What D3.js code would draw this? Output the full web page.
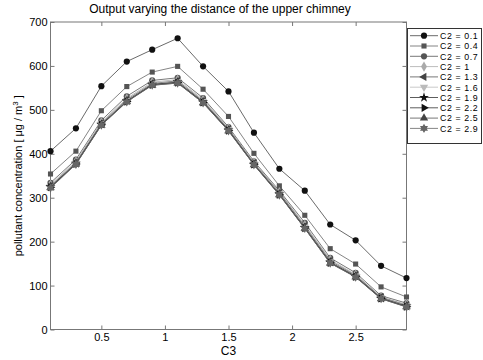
<!DOCTYPE html>
<html>
<head>
<meta charset="utf-8">
<script src="https://cdn.jsdelivr.net/npm/d3@7"></script>
<style>
body { margin: 0; background: #fff; }
svg { display: block; font-family: 'Liberation Sans', Arial, sans-serif; }
</style>
</head>
<body>
<svg id="chart" width="483" height="360"></svg>
<script>
// C3 positions along the x-axis
const c3Values = [0.1, 0.3, 0.5, 0.7, 0.9, 1.1, 1.3, 1.5, 1.7, 1.9, 2.1, 2.3, 2.5, 2.7, 2.9];

// one series per C2 value
const c2Labels = ['C2 = 0.1', 'C2 = 0.4', 'C2 = 0.7', 'C2 = 1', 'C2 = 1.3', 'C2 = 1.6', 'C2 = 1.9', 'C2 = 2.2', 'C2 = 2.5', 'C2 = 2.9'];
const c2_01 = [406, 458, 554, 610, 637, 663, 599, 542, 448, 366, 316, 239, 203, 145, 117];
const c2_04 = [354, 406, 498, 553, 586, 599, 547, 485, 401, 327, 260, 184, 149, 97, 74];
const c2_07 = [334, 387, 476, 531, 567, 573, 527, 461, 383, 316, 243, 163, 129, 77, 60];
const c2_10 = [330, 383, 472, 526, 563, 569, 523, 458, 380, 313, 238, 159, 125, 74, 57];
const c2_13 = [327, 380, 469, 523, 560, 566, 520, 456, 378, 311, 235, 156, 123, 73, 55];
const c2_16 = [326, 379, 468, 521, 559, 564, 519, 455, 377, 309, 233, 154, 122, 72, 54];
const c2_19 = [325, 378, 467, 520, 558, 563, 518, 454, 376, 308, 232, 153, 121, 71, 53];
const c2_22 = [324, 377, 466, 519, 557, 562, 517, 453, 376, 307, 231, 152, 120, 71, 52];
const c2_25 = [323, 377, 465, 519, 556, 561, 516, 452, 375, 307, 230, 151, 120, 70, 52];
const c2_29 = [322, 376, 465, 518, 556, 561, 516, 452, 375, 306, 230, 151, 119, 70, 51];
const seriesValues = [c2_01, c2_04, c2_07, c2_10, c2_13, c2_16, c2_19, c2_22, c2_25, c2_29];

// tick labels
const xTicks = [0.5, 1, 1.5, 2, 2.5];
const yTicks = [0, 100, 200, 300, 400, 500, 600, 700];

// MATLAB-like hexagram marker
const symbolHexagram = {
    draw(context, size) {
        const r = Math.sqrt(size / 1.6);
        const ri = r / Math.sqrt(3);
        for (let i = 0; i < 12; i++) {
            const a = Math.PI / 6 * i - Math.PI / 2;
            const rr = i % 2 ? ri : r;
            if (i === 0)
                context.moveTo(rr * Math.cos(a), rr * Math.sin(a));
            else
                context.lineTo(rr * Math.cos(a), rr * Math.sin(a));
        }
        context.closePath();
    },
};

const markerStyles = [
    { type: d3.symbolCircle, size: 30, rotate: 0, fill: '#111', line: '#444' },
    { type: d3.symbolSquare, size: 26, rotate: 0, fill: '#555', line: '#666' },
    { type: d3.symbolCircle, size: 30, rotate: 0, fill: '#555', line: '#555' },
    { type: d3.symbolDiamond, size: 30, rotate: 0, fill: '#aaa', line: '#aaa' },
    { type: d3.symbolTriangle, size: 30, rotate: -90, fill: '#444', line: '#555' },
    { type: d3.symbolTriangle, size: 30, rotate: 180, fill: '#bbb', line: '#bbb' },
    { type: d3.symbolStar, size: 30, rotate: 0, fill: '#111', line: '#333' },
    { type: d3.symbolTriangle, size: 30, rotate: 90, fill: '#111', line: '#333' },
    { type: d3.symbolTriangle, size: 30, rotate: 0, fill: '#444', line: '#555' },
    { type: symbolHexagram, size: 34, rotate: 0, fill: '#666', line: '#666' },
];

const plot = { left: 50.5, right: 406.5, top: 22, bottom: 329.5 };
const svg = d3.select('#chart');

svg.append('rect').
attr('width', 483).
attr('height', 360).
attr('fill', '#fff');

const xScale = d3.scaleLinear([0.1, 2.9], [plot.left, plot.right]);
const yScale = d3.scaleLinear([0, 700], [plot.bottom, plot.top]);

// Axes, ticks pointing inward on all four sides
const axisColor = '#777';
function styleAxis(g) {
    g.select('.domain').remove();
    g.selectAll('.tick line').attr('stroke', axisColor);
    g.selectAll('.tick text').
    attr('fill', '#000').
    style('font-size', '11px').
    style('font-family', "'Liberation Sans', Arial, sans-serif");
}

svg.append('g').
attr('transform', `translate(0, ${plot.bottom})`).
call(d3.axisBottom(xScale).tickValues(xTicks).tickFormat(d3.format('')).tickSizeInner(-4).tickSizeOuter(0).tickPadding(4)).
call(styleAxis);

svg.append('g').
attr('transform', `translate(0, ${plot.top})`).
call(d3.axisTop(xScale).tickValues(xTicks).tickFormat('').tickSizeInner(-4).tickSizeOuter(0)).
call(styleAxis);

svg.append('g').
attr('transform', `translate(${plot.left}, 0)`).
call(d3.axisLeft(yScale).tickValues(yTicks).tickSizeInner(-4).tickSizeOuter(0).tickPadding(3)).
call(styleAxis);

svg.append('g').
attr('transform', `translate(${plot.right}, 0)`).
call(d3.axisRight(yScale).tickValues(yTicks).tickFormat('').tickSizeInner(-4).tickSizeOuter(0)).
call(styleAxis);

// Plot box
svg.append('rect').
attr('x', plot.left).
attr('y', plot.top).
attr('width', plot.right - plot.left).
attr('height', plot.bottom - plot.top).
attr('fill', 'none').
attr('stroke', axisColor);

// Lines and markers
const line = d3.line().x((d, i) => xScale(c3Values[i])).
y(d => yScale(d));

seriesValues.forEach((values, s) => {
    const st = markerStyles[s];
    const g = svg.append('g');
    g.append('path').
    attr('d', line(values)).
    attr('fill', 'none').
    attr('stroke', st.line).
    attr('stroke-width', 0.8);

    g.selectAll('.marker').
    data(values).
    enter().
    append('path').
    attr('d', d3.symbol().type(st.type).size(st.size)).
    attr('transform', (d, i) => `translate(${xScale(c3Values[i])}, ${yScale(d)}) rotate(${st.rotate})`).
    attr('fill', st.fill);
});

// Title and axis labels
svg.append('text').
attr('x', 220).
attr('y', 13).
attr('text-anchor', 'middle').
style('font-size', '12px').
text('Output varying the distance of the upper chimney');

svg.append('text').
attr('x', (plot.left + plot.right) / 2).
attr('y', 355).
attr('text-anchor', 'middle').
style('font-size', '12px').
text('C3');

const yLabel = svg.append('text').
attr('transform', `translate(22, ${(plot.top + plot.bottom) / 2}) rotate(-90)`).
attr('text-anchor', 'middle').
style('font-size', '11px');
yLabel.append('tspan').text('pollutant concentration [ \u03bcg / m');
yLabel.append('tspan').attr('dy', -4).style('font-size', '8px').text('3');
yLabel.append('tspan').attr('dy', 4).text(' ]');

// Legend
const legend = { x: 407.5, y: 28.5, w: 74, h: 115, row: 10.3 };
svg.append('rect').
attr('x', legend.x).
attr('y', legend.y).
attr('width', legend.w).
attr('height', legend.h).
attr('fill', '#fff').
attr('stroke', '#333');

c2Labels.forEach((label, s) => {
    const st = markerStyles[s];
    const cy = 35.7 + s * legend.row;
    svg.append('line').
    attr('x1', 410).
    attr('x2', 438).
    attr('y1', cy).
    attr('y2', cy).
    attr('stroke', st.line).
    attr('stroke-width', 0.8);
    svg.append('path').
    attr('d', d3.symbol().type(st.type).size(st.size)).
    attr('transform', `translate(424, ${cy}) rotate(${st.rotate})`).
    attr('fill', st.fill);
    svg.append('text').
    attr('x', 440).
    attr('y', cy + 3.3).
    style('font-size', '8.8px').
    style('letter-spacing', '0.6px').
    text(label);
});
</script>
</body>
</html>
